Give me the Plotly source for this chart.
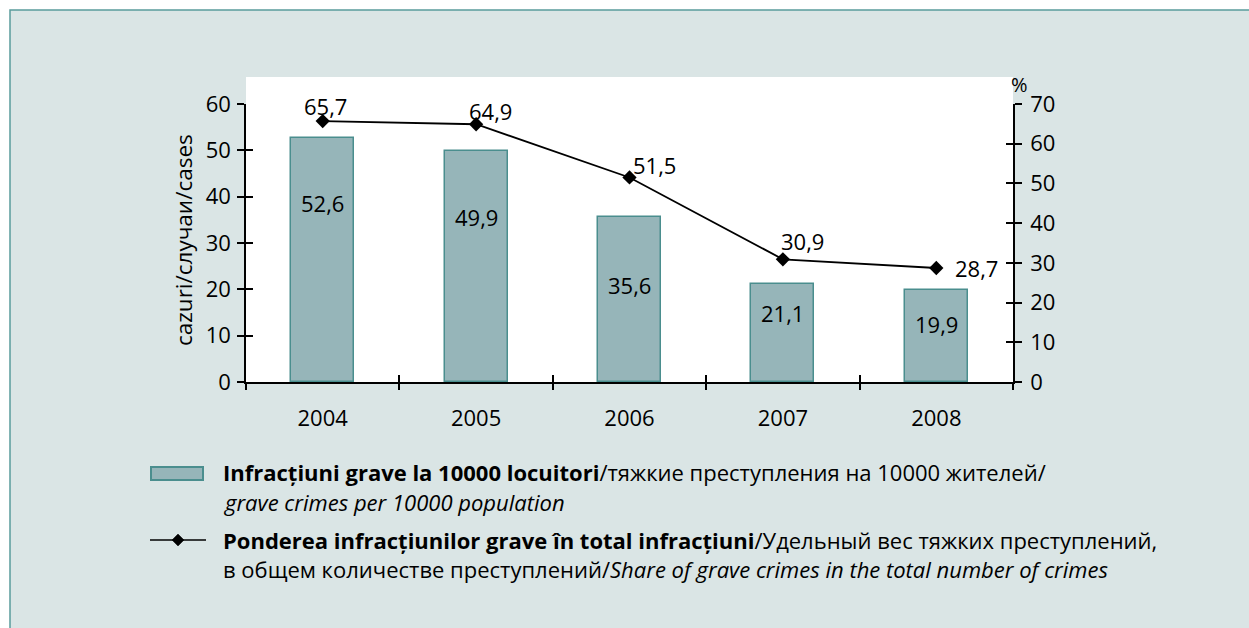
import plotly.graph_objects as go

# ---- data ----
years = ["2004", "2005", "2006", "2007", "2008"]
crimes_per_10000 = [52.6, 49.9, 35.6, 21.1, 19.9]
share_pct = [65.7, 64.9, 51.5, 30.9, 28.7]
left_ticks = [0, 10, 20, 30, 40, 50, 60]
right_ticks = [0, 10, 20, 30, 40, 50, 60, 70]

# ---- layout constants ----
W, H = 1249, 628
L, R, T, B = 246, 1013, 104, 382
PW, PH = R - L, B - T
FONT = "Open Sans"
BG = "#dae5e5"
BAR_FILL = "#96b5b9"
BAR_LINE = "#4a8e8e"

# vertical placement of bar value labels (in left-axis units)
bar_label_y = [38.6, 35.6, 20.9, 14.9, 12.5]
# pixel offsets of line value labels relative to markers
line_label_shift = [(3, 15), (14, 13), (25, 12), (20, 18), (40, 0)]


def px(xp):
    return (xp - L) / PW


def py(yp):
    return (B - yp) / PH


def fmt(v):
    return f"{v:.1f}".replace(".", ",")


positions = list(range(len(years)))
boundaries = [p - 0.5 for p in positions] + [positions[-1] + 0.5]

fig = go.Figure()

fig.add_trace(go.Bar(
    x=positions, y=crimes_per_10000, width=0.41,
    marker=dict(color=BAR_FILL, line=dict(color=BAR_LINE, width=1.5)),
    xaxis="x", yaxis="y", showlegend=False, hoverinfo="skip",
))
fig.add_trace(go.Scatter(
    x=positions, y=share_pct, mode="lines+markers",
    line=dict(color="black", width=1.8),
    marker=dict(symbol="diamond", size=11, color="black"),
    xaxis="x", yaxis="y2", showlegend=False, hoverinfo="skip",
))
# invisible helper traces for the tick overlay axes
for xa, ya in [("x2", "y"), ("x3", "y3"), ("x", "y4")]:
    fig.add_trace(go.Scatter(x=[positions[0]], y=[0], mode="markers",
                             marker=dict(opacity=0), xaxis=xa, yaxis=ya,
                             showlegend=False, hoverinfo="skip"))

tickfont = dict(family=FONT, size=22, color="black")
axis_common = dict(linecolor="black", linewidth=1.5, tickcolor="black",
                   tickwidth=1.5, ticklen=7, showgrid=False, zeroline=False,
                   fixedrange=True)

annotations = []
for p, v, ly in zip(positions, crimes_per_10000, bar_label_y):
    annotations.append(dict(x=p, y=ly, xref="x", yref="y", text=fmt(v),
                            showarrow=False, font=tickfont,
                            xanchor="center", yanchor="middle"))
for p, v, (dx, dy) in zip(positions, share_pct, line_label_shift):
    annotations.append(dict(x=p, y=v, xref="x", yref="y2", text=fmt(v),
                            showarrow=False, font=tickfont,
                            xanchor="center", yanchor="middle",
                            xshift=dx, yshift=dy))

annotations.append(dict(x=px(1019), y=py(84), xref="paper", yref="paper",
                        text="%", showarrow=False,
                        font=dict(family=FONT, size=20, color="black"),
                        xanchor="center", yanchor="middle"))
annotations.append(dict(x=px(183), y=py(240), xref="paper", yref="paper",
                        text="cazuri/случаи/cases", textangle=-90,
                        showarrow=False,
                        font=dict(family=FONT, size=22.5, color="black"),
                        xanchor="center", yanchor="middle"))

legend_font = dict(family=FONT, size=22, color="black")
legend_lines = [
    (472, "<b>Infracțiuni grave la 10000 locuitori</b>/тяжкие преступления на 10000 жителей/"),
    (502, "<i>grave crimes per 10000 population</i>"),
    (540, "<b>Ponderea infracțiunilor grave în total infracțiuni</b>/Удельный вес тяжких преступлений,"),
    (569, "в общем количестве преступлений/<i>Share of grave crimes in the total number of crimes</i>"),
]
for yp, txt in legend_lines:
    annotations.append(dict(x=px(221), y=py(yp), xref="paper", yref="paper",
                            text=txt, showarrow=False, font=legend_font,
                            xanchor="left", yanchor="middle"))

shapes = [
    # outer frame
    dict(type="rect", xref="paper", yref="paper",
         x0=px(10), x1=px(1300), y0=py(10), y1=py(700),
         line=dict(color="#5a9c9c", width=1.5), fillcolor=BG, layer="below"),
    # white plotting panel (extends above the axis tops)
    dict(type="rect", xref="paper", yref="paper",
         x0=0, x1=1, y0=0, y1=py(77),
         line=dict(width=0), fillcolor="white", layer="below"),
    # legend: bar swatch
    dict(type="rect", xref="paper", yref="paper",
         x0=px(151), x1=px(203), y0=py(467), y1=py(480),
         line=dict(color=BAR_LINE, width=2), fillcolor=BAR_FILL),
    # legend: line swatch
    dict(type="line", xref="paper", yref="paper",
         x0=px(150), x1=px(206), y0=py(540), y1=py(540),
         line=dict(color="black", width=1.5)),
    dict(type="path", xref="paper", yref="paper",
         path=f"M {px(178)},{py(534)} L {px(184)},{py(540)} L {px(178)},{py(546)} L {px(172)},{py(540)} Z",
         line=dict(color="black", width=0.5), fillcolor="black"),
]

fig.update_layout(
    width=W, height=H,
    margin=dict(l=L, r=W - R, t=T, b=H - B, pad=0),
    paper_bgcolor="white", plot_bgcolor="white",
    font=dict(family=FONT, color="black"),
    showlegend=False,
    bargap=0,
    xaxis=dict(range=[-0.5, 4.5], tickvals=positions, ticktext=years,
               ticks="", showline=True, tickfont=tickfont,
               ticklabelstandoff=16, **{k: v for k, v in axis_common.items() if k != "ticklen"}),
    xaxis2=dict(range=[-0.5, 4.5], overlaying="x", anchor="y", side="bottom",
                tickvals=boundaries, ticks="outside", showticklabels=False,
                showline=False, **axis_common),
    xaxis3=dict(range=[-0.5, 4.5], overlaying="x", anchor="y3", side="bottom",
                tickvals=boundaries, ticks="inside", showticklabels=False,
                showline=False, **axis_common),
    yaxis=dict(range=[0, 60], tickvals=left_ticks, ticks="outside",
               showline=True, tickfont=tickfont, ticklabelstandoff=2,
               **axis_common),
    yaxis3=dict(range=[0, 60], overlaying="y", anchor="x", side="left",
                tickvals=left_ticks, ticks="inside", showticklabels=False,
                showline=False, **axis_common),
    yaxis2=dict(range=[0, 70], overlaying="y", anchor="x", side="right",
                tickvals=right_ticks, ticks="outside", showline=True,
                tickfont=tickfont, ticklabelstandoff=4, **axis_common),
    yaxis4=dict(range=[0, 70], overlaying="y", anchor="x", side="right",
                tickvals=right_ticks, ticks="inside", showticklabels=False,
                showline=False, **axis_common),
    annotations=annotations,
    shapes=shapes,
)

# remove the browser's default page margin and scrollbars so the figure sits at (0, 0)
fig.write_html(
    "out.html",
    config={"displayModeBar": False},
    post_script="document.body.style.margin='0';"
                "document.body.style.overflow='hidden';"
                "document.documentElement.style.overflow='hidden';",
)
